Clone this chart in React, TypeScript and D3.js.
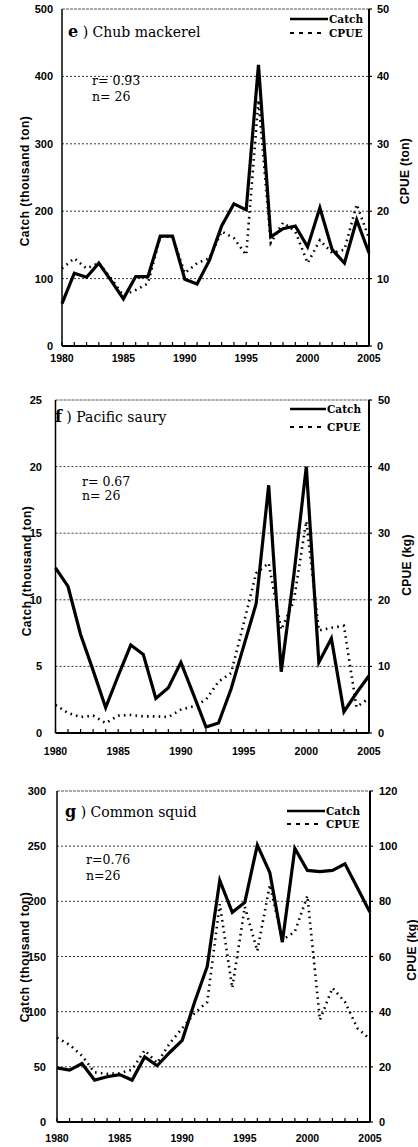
import React from 'react';
import * as d3 from 'd3';

const years = [1980, 1981, 1982, 1983, 1984, 1985, 1986, 1987, 1988, 1989, 1990, 1991, 1992,
  1993, 1994, 1995, 1996, 1997, 1998, 1999, 2000, 2001, 2002, 2003, 2004, 2005];
const yearTickLabels = [1980, 1985, 1990, 1995, 2000, 2005];

// e) Chub mackerel
const mackerelCatch = [63, 108, 102, 123, 97, 70, 103, 103, 163, 163, 99, 92, 127, 178, 211, 202, 417, 162, 174, 178, 147, 205, 143, 123, 187, 138];
const mackerelCPUE = [11.5, 13, 11.5, 12.3, 10, 7.5, 8.3, 9.3, 16.2, 16.2, 10.8, 12.3, 13, 17, 16, 13.5, 36.5, 15.3, 18.3, 17, 12.3, 15.7, 13.8, 14.3, 21, 16];
const mackerelLeftTicks = [0, 100, 200, 300, 400, 500];
const mackerelRightTicks = [0, 10, 20, 30, 40, 50];

// f) Pacific saury
const sauryCatch = [12.4, 11, 7.4, 4.7, 1.9, 4.3, 6.6, 5.9, 2.6, 3.4, 5.3, 2.9, 0.45, 0.75, 3.3, 6.5, 9.7, 18.6, 4.6, 11.8, 20, 5.3, 7.1, 1.6, 3, 4.3];
const sauryCPUE = [4.2, 3, 2.4, 2.6, 1.5, 2.6, 2.7, 2.5, 2.5, 2.4, 3.5, 4, 5, 7.7, 9, 16.4, 24, 25.5, 15.5, 19.8, 31.8, 15.4, 15.8, 16.1, 3.9, 5.2];
const sauryLeftTicks = [0, 5, 10, 15, 20, 25];
const sauryRightTicks = [0, 10, 20, 30, 40, 50];

// g) Common squid
const squidCatch = [49, 47, 53, 38, 41, 43, 38, 59, 51, 63, 74, 109, 141, 219, 190, 199, 251, 226, 163, 248, 228, 227, 228, 234, 212, 190];
const squidCPUE = [30.5, 28, 24, 18, 17.5, 17.7, 19, 26, 21.4, 28.5, 34, 39.5, 43.5, 79, 48.6, 78, 62, 86, 66, 69, 82, 37, 48.6, 43.5, 34, 30];
const squidLeftTicks = [0, 50, 100, 150, 200, 250, 300];
const squidRightTicks = [0, 20, 40, 60, 80, 100, 120];

const SANS = "'Liberation Sans', Arial, sans-serif";
const SERIF = "'DejaVu Serif', serif";

type Layout = {
  left: number; right: number; top: number; bottom: number;
  titleX: number; titleY: number; rX: number; rY: number; nY: number;
  leg1Y: number; leg2Y: number; legX0: number; legX1: number;
  leftTickX: number; rightTickX: number; yearY: number;
  leftLabelX: number; leftLabelY: number; rightLabelX: number; rightLabelY: number;
};

const layoutE: Layout = {
  left: 62, right: 369, top: 9, bottom: 346,
  titleX: 68, titleY: 37, rX: 92, rY: 85, nY: 101,
  leg1Y: 19, leg2Y: 33, legX0: 290, legX1: 328,
  leftTickX: 53, rightTickX: 377, yearY: 362,
  leftLabelX: 25, leftLabelY: 181, rightLabelX: 405, rightLabelY: 171,
};
const layoutF: Layout = {
  left: 55.5, right: 369, top: 400, bottom: 733,
  titleX: 55, titleY: 422, rX: 82, rY: 486, nY: 500,
  leg1Y: 409, leg2Y: 427, legX0: 290, legX1: 326,
  leftTickX: 42, rightTickX: 378, yearY: 755,
  leftLabelX: 27, leftLabelY: 571, rightLabelX: 407, rightLabelY: 565,
};
const layoutG: Layout = {
  left: 57, right: 370, top: 791, bottom: 1122,
  titleX: 65, titleY: 817, rX: 86, rY: 864, nY: 880,
  leg1Y: 811, leg2Y: 824, legX0: 287, legX1: 325,
  leftTickX: 46, rightTickX: 379, yearY: 1142,
  leftLabelX: 25, leftLabelY: 957, rightLabelX: 412, rightLabelY: 950,
};

type PanelProps = {
  L: Layout; catchVals: number[]; cpueVals: number[];
  leftTicks: number[]; rightTicks: number[];
  letter: string; name: string; rText: string; nText: string; rightLabel: string;
};

function Panel({ L, catchVals, cpueVals, leftTicks, rightTicks, letter, name, rText, nText, rightLabel }: PanelProps) {
  const x = d3.scaleLinear().domain([years[0], years[years.length - 1]]).range([L.left, L.right]);
  const yL = d3.scaleLinear().domain([leftTicks[0], leftTicks[leftTicks.length - 1]]).range([L.bottom, L.top]);
  const yR = d3.scaleLinear().domain([rightTicks[0], rightTicks[rightTicks.length - 1]]).range([L.bottom, L.top]);
  const lineC = d3.line<number>().x((_, i) => x(years[i])).y((d) => yL(d));
  const lineP = d3.line<number>().x((_, i) => x(years[i])).y((d) => yR(d));

  return (
    <g>
      {leftTicks.slice(1, -1).map((t) => (
        <line key={'g' + t} x1={L.left} x2={L.right} y1={yL(t)} y2={yL(t)}
          stroke="#222" strokeWidth={0.9} strokeDasharray="2,2" />
      ))}
      <line x1={L.left} x2={L.right} y1={L.top} y2={L.top} stroke="#555" strokeWidth={1} strokeDasharray="3,1" />
      <line x1={L.left} x2={L.left} y1={L.top} y2={L.bottom} stroke="#000" strokeWidth={1.5} />
      <line x1={L.right} x2={L.right} y1={L.top} y2={L.bottom} stroke="#000" strokeWidth={2} />
      <line x1={L.left} x2={L.right} y1={L.bottom} y2={L.bottom} stroke="#000" strokeWidth={2} />
      {years.map((yr) => (
        <line key={'t' + yr} x1={x(yr)} x2={x(yr)} y1={L.bottom} y2={L.bottom - 4} stroke="#000" strokeWidth={1.2} />
      ))}
      {rightTicks.map((t) => (
        <line key={'rt' + t} x1={L.right} x2={L.right + 3} y1={yR(t)} y2={yR(t)} stroke="#000" strokeWidth={1.2} />
      ))}
      {leftTicks.map((t) => (
        <text key={'lt' + t} x={L.leftTickX} y={yL(t) + 4} textAnchor="end" fontFamily={SANS}
          fontWeight="bold" fontSize={11}>{t}</text>
      ))}
      {rightTicks.map((t) => (
        <text key={'rl' + t} x={L.rightTickX} y={yR(t) + 4} textAnchor="start" fontFamily={SANS}
          fontWeight="bold" fontSize={11}>{t}</text>
      ))}
      {yearTickLabels.map((yr) => (
        <text key={'yl' + yr} x={x(yr)} y={L.yearY} textAnchor="middle" fontFamily={SANS}
          fontWeight="bold" fontSize={10.5}>{yr}</text>
      ))}
      <text transform={`translate(${L.leftLabelX},${L.leftLabelY}) rotate(-90)`} textAnchor="middle"
        dominantBaseline="central" fontFamily={SANS} fontWeight="bold" fontSize={12} letterSpacing={0.5}>
        Catch (thousand ton)
      </text>
      <text transform={`translate(${L.rightLabelX},${L.rightLabelY}) rotate(-90)`} textAnchor="middle"
        dominantBaseline="central" fontFamily={SANS} fontWeight="bold" fontSize={12} letterSpacing={0.3}>
        {rightLabel}
      </text>
      <path d={lineP(cpueVals) || ''} fill="none" stroke="#000" strokeWidth={2.6}
        strokeDasharray="1.6,4.2" />
      <path d={lineC(catchVals) || ''} fill="none" stroke="#000" strokeWidth={3.2} strokeLinejoin="miter" />
      <text x={L.titleX} y={L.titleY} fontFamily={SERIF} fontSize={14}>
        <tspan fontSize={16} fontWeight="bold">{letter}</tspan>
        <tspan> ) {name}</tspan>
      </text>
      <text x={L.rX} y={L.rY} fontFamily={SERIF} fontSize={12.5}>{rText}</text>
      <text x={L.rX} y={L.nY} fontFamily={SERIF} fontSize={12.5}>{nText}</text>
      <line x1={L.legX0} x2={L.legX1} y1={L.leg1Y} y2={L.leg1Y} stroke="#000" strokeWidth={2.6} />
      <text x={L.legX1 + 1} y={L.leg1Y + 4} fontFamily={SERIF} fontWeight="bold" fontSize={10.5}>Catch</text>
      <line x1={L.legX0} x2={L.legX1 - 3} y1={L.leg2Y} y2={L.leg2Y} stroke="#000" strokeWidth={1.8} strokeDasharray="4,5" />
      <text x={L.legX1 + 1} y={L.leg2Y + 4} fontFamily={SERIF} fontWeight="bold" fontSize={10.5}>CPUE</text>
    </g>
  );
}

export default function App() {
  return (
    <svg width={418} height={1147} viewBox="0 0 418 1147"
      style={{ position: 'absolute', left: 0, top: 0, background: '#fff', display: 'block' }}>
      <rect x={0} y={0} width={418} height={1147} fill="#fff" />
      <Panel L={layoutE} catchVals={mackerelCatch} cpueVals={mackerelCPUE}
        leftTicks={mackerelLeftTicks} rightTicks={mackerelRightTicks}
        letter="e" name="Chub mackerel" rText="r= 0.93" nText="n= 26" rightLabel="CPUE (ton)" />
      <Panel L={layoutF} catchVals={sauryCatch} cpueVals={sauryCPUE}
        leftTicks={sauryLeftTicks} rightTicks={sauryRightTicks}
        letter="f" name="Pacific saury" rText="r= 0.67" nText="n= 26" rightLabel="CPUE (kg)" />
      <Panel L={layoutG} catchVals={squidCatch} cpueVals={squidCPUE}
        leftTicks={squidLeftTicks} rightTicks={squidRightTicks}
        letter="g" name="Common squid" rText="r=0.76" nText="n=26" rightLabel="CPUE (kg)" />
    </svg>
  );
}
